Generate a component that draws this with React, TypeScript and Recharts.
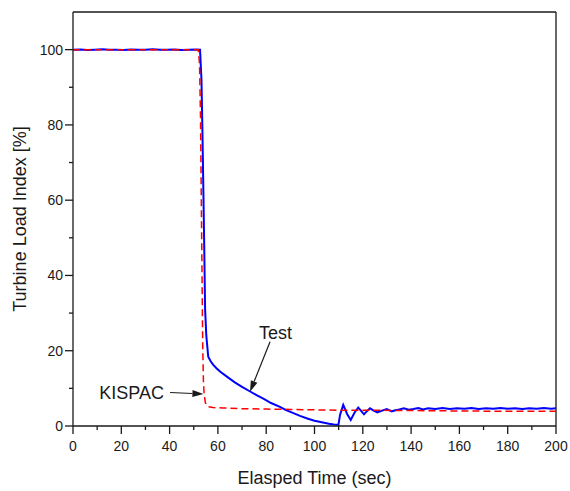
import { LineChart, Line, XAxis, YAxis, ReferenceLine, ReferenceDot } from "recharts"

// Test (measured) curve
const testTime = [
  0, 3, 6, 9, 12, 15, 18, 21, 24, 27, 30, 33, 36, 39, 42, 45, 48, 51, 52.6,
  53.2, 53.6, 54, 54.4, 54.7, 55.2, 56, 57, 58, 59.5, 61, 64, 67, 70, 73, 76, 79, 82, 85.7,
  88, 91, 94, 97, 100, 103, 106, 108, 109.9,
  110.6, 111.9, 113.5, 115, 116.6, 118.1, 119.3, 120.5, 121.8, 123, 124.5, 126, 128, 129.9,
  132, 133.5, 135.1, 137, 139, 141, 143, 145, 147, 150, 153, 156, 159, 162, 165, 168, 171,
  174, 177, 180, 183, 186, 189, 192, 195, 198, 200,
]
const testLoad = [
  99.95, 100.05, 99.9, 100, 100.1, 99.95, 100, 99.9, 100.05, 100, 99.95, 100.1, 100, 99.95, 100.05, 99.9, 100, 100.05, 100,
  92, 78, 62, 45, 31, 24, 18.4, 17.2, 16.3, 15.3, 14.4, 13, 11.6, 10.4, 9.3, 8.2, 7.2, 6.1, 5.1,
  4.3, 3.5, 2.7, 2, 1.4, 1, 0.6, 0.4, 0.3,
  3, 5.6, 3.2, 1.6, 3.6, 4.9, 4, 3.1, 4, 4.7, 4.1, 3.6, 4.1, 4.5,
  3.9, 4.2, 4.4, 4.7, 4.3, 4.5, 4.8, 4.4, 4.7, 4.5, 4.8, 4.5, 4.7, 4.6, 4.8, 4.5, 4.7,
  4.6, 4.8, 4.6, 4.7, 4.5, 4.7, 4.6, 4.8, 4.6, 4.7,
]

// KISPAC (calculated) curve
const kispacTime = [
  0, 51.9, 52.4, 52.8, 53.1, 53.4, 53.7, 54, 54.3, 54.8, 55.4, 56, 58, 62, 70, 80, 90, 100, 110, 120, 140, 160, 180, 200,
]
const kispacLoad = [
  100, 100, 96, 82, 62, 42, 22, 12, 8.5, 6.2, 5.4, 5.1, 4.9, 4.8, 4.6, 4.5, 4.4, 4.3, 4.2, 4.2, 4.1, 4.0, 3.9, 3.9,
]

const xTicks = [0, 10, 20, 30, 40, 50, 60, 70, 80, 90, 100, 110, 120, 130, 140, 150, 160, 170, 180, 190, 200]
const yTicks = [0, 10, 20, 30, 40, 50, 60, 70, 80, 90, 100]

const annotationText = ["Test", "KISPAC"]
const annotationX = [83.9, 24.3]
const annotationY = [24.8, 8.9]
const arrowFrom = [
  { x: 81.6, y: 22.4 },
  { x: 40.2, y: 8.9 },
]
const arrowTo = [
  { x: 73.3, y: 9.1 },
  { x: 54.0, y: 8.5 },
]

const testData = testTime.map((t, i) => ({ t, v: testLoad[i] }))
const kispacData = kispacTime.map((t, i) => ({ t, v: kispacLoad[i] }))

const FONT = "'Liberation Sans', Arial, sans-serif"
const INK = "#1a1a1a"

function XTick(props: any) {
  const { x, y, payload } = props
  const major = payload.value % 20 === 0
  return (
    <g>
      <line x1={x} y1={y} x2={x} y2={y + (major ? 8 : 4)} stroke={INK} strokeWidth={1.3} />
      {major && (
        <text x={x} y={y + 25} textAnchor="middle" fontSize={14} fontFamily={FONT} fill={INK}>
          {payload.value}
        </text>
      )}
    </g>
  )
}

function YTick(props: any) {
  const { x, y, payload } = props
  const major = payload.value % 20 === 0
  return (
    <g>
      <line x1={x} y1={y} x2={x - (major ? 8 : 4)} y2={y} stroke={INK} strokeWidth={1.3} />
      {major && (
        <text x={x - 10} y={y + 5} textAnchor="end" fontSize={14} fontFamily={FONT} fill={INK}>
          {payload.value}
        </text>
      )}
    </g>
  )
}

function Arrow(props: any) {
  const { x1, y1, x2, y2 } = props
  const ang = Math.atan2(y2 - y1, x2 - x1)
  const len = 11
  const w = 3.5
  const bx = x2 - len * Math.cos(ang)
  const by = y2 - len * Math.sin(ang)
  const px = -Math.sin(ang) * w
  const py = Math.cos(ang) * w
  return (
    <g>
      <line x1={x1} y1={y1} x2={bx} y2={by} stroke={INK} strokeWidth={1.2} />
      <polygon points={`${x2},${y2} ${bx + px},${by + py} ${bx - px},${by - py}`} fill={INK} />
    </g>
  )
}

export default function App() {
  return (
    <div style={{ position: "absolute", left: 0, top: 0, width: 570, height: 491, background: "#fff" }}>
      <LineChart width={570} height={491} margin={{ top: 12, right: 14, left: 13, bottom: 5 }}>
        <XAxis
          dataKey="t"
          type="number"
          domain={[0, 200]}
          ticks={xTicks}
          interval={0}
          tick={<XTick />}
          tickLine={false}
          tickSize={0}
          tickMargin={0}
          axisLine={{ stroke: INK, strokeWidth: 1.3 }}
          height={60}
          label={{
            value: "Elasped Time (sec)",
            position: "insideBottom",
            offset: 2,
            fontSize: 18,
            fontFamily: FONT,
            fill: INK,
          }}
        />
        <YAxis
          type="number"
          domain={[0, 110]}
          ticks={yTicks}
          interval={0}
          tick={<YTick />}
          tickLine={false}
          tickSize={0}
          tickMargin={0}
          axisLine={{ stroke: INK, strokeWidth: 1.3 }}
          width={60}
          label={{
            value: "Turbine Load Index [%]",
            angle: -90,
            position: "insideLeft",
            offset: 7,
            fontSize: 18,
            fontFamily: FONT,
            fill: INK,
            style: { textAnchor: "middle" },
          }}
        />
        <ReferenceLine y={110} stroke={INK} strokeWidth={1.3} />
        <ReferenceLine x={200} stroke={INK} strokeWidth={1.3} />
        <Line
          data={testData}
          dataKey="v"
          type="linear"
          stroke="#0000ff"
          strokeWidth={2}
          dot={false}
          isAnimationActive={false}
        />
        <Line
          data={kispacData}
          dataKey="v"
          type="linear"
          stroke="#ff0000"
          strokeWidth={1.5}
          strokeDasharray="7 4"
          dot={false}
          isAnimationActive={false}
        />
        {annotationText.map((txt, i) => (
          <ReferenceLine
            key={"arrow-" + txt}
            segment={[arrowFrom[i], arrowTo[i]]}
            shape={(p: any) => <Arrow {...p} />}
          />
        ))}
        {annotationText.map((txt, i) => (
          <ReferenceDot
            key={"label-" + txt}
            x={annotationX[i]}
            y={annotationY[i]}
            r={0}
            stroke="none"
            fill="none"
            label={{ value: txt, position: "center", fontSize: 18, fontFamily: FONT, fill: INK }}
          />
        ))}
      </LineChart>
    </div>
  )
}
